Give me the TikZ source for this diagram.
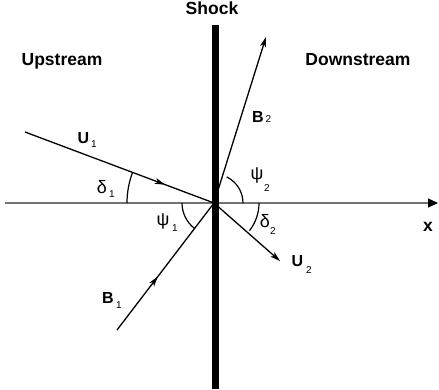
\documentclass[tikz,border=0pt]{standalone}
\usepackage{fontspec}
\setmainfont{Liberation Sans}
\usetikzlibrary{arrows.meta,decorations.markings}
\begin{document}
\begin{tikzpicture}[x=1pt,y=1pt,
  vec/.style={line width=1.3pt},
  endtip/.style={-{Stealth[length=10pt,width=6pt,inset=2.5pt]}},
  midtip/.style={decoration={markings, mark=at position #1 with {\arrow{Stealth[length=10pt,width=6pt,inset=2.5pt]}}}, postaction=decorate},
  ang/.style={line width=1.2pt},
  axisline/.style={line width=1.1pt, draw=black!55, -{Triangle[length=10pt,width=9pt,color=black]}},
  title/.style={font=\fontsize{17.5}{18}\selectfont\bfseries, inner sep=0pt, anchor=base},
  mainlab/.style={font=\fontsize{16}{16}\selectfont\bfseries, inner sep=0pt},
  sublab/.style={font=\fontsize{10}{10}\selectfont, inner sep=0pt},
  greek/.style={font=\fontsize{18}{18}\selectfont, inner sep=0pt},
]
\useasboundingbox (0,0) rectangle (439,389);
% coordinates
\coordinate (O) at (214,186);
\coordinate (xs) at (5,186);
\coordinate (xe) at (438,186);
\coordinate (u1) at (25,257);
\coordinate (u2) at (280,128);
\coordinate (b1) at (117,59);
\coordinate (b2) at (266,352);
% x axis
\draw[axisline] (xs) -- (xe);
% vectors
\draw[vec, midtip=0.74] (u1) -- (O);
\draw[vec, endtip] (O) -- (u2);
\draw[vec, midtip=0.42] (b1) -- (O);
\draw[vec, endtip] (O) -- (b2);
% angle arcs
\draw[ang] ([shift={(180:87)}]O) arc[start angle=180, end angle=159.4, radius=87];
\draw[ang] ([shift={(180:32)}]O) arc[start angle=180, end angle=232.6, radius=32];
\draw[ang] ([shift={(0:29)}]O) arc[start angle=0, end angle=64, radius=29];
\draw[ang] ([shift={(0:45)}]O) arc[start angle=0, end angle=-38, radius=45];
% shock
\node[fill=black, minimum width=7pt, minimum height=364pt, inner sep=0pt, anchor=south] (shock) at (215.5,0) {};
% titles
\node[title] (tshock) at (212,374) {Shock};
\node[title] (tup) at (62,323) {Upstream};
\node[title] (tdown) at (358,323) {Downstream};
\node[title, anchor=center] (tx) at (428,162) {x};
% vector labels
\node[mainlab] (lu1) at (83.5,251) {U};
\node[sublab] (lu1s) at (94,245) {1};
\node[mainlab] (lu2) at (297.5,127.5) {U};
\node[sublab] (lu2s) at (309,119) {2};
\node[mainlab] (lb1) at (108,91.5) {B};
\node[sublab] (lb1s) at (119,84) {1};
\node[mainlab] (lb2) at (258,272.5) {B};
\node[sublab] (lb2s) at (268.5,270) {2};
% angle labels
\node[greek] (d1) at (102,202) {δ};
\node[sublab] (d1s) at (112,194.5) {1};
\node[greek] (p1) at (163,168) {ψ};
\node[sublab] (p1s) at (175,161) {1};
\node[greek] (p2) at (257,214) {ψ};
\node[sublab] (p2s) at (267,201) {2};
\node[greek] (d2) at (265,168) {δ};
\node[sublab] (d2s) at (273,158) {2};
\end{tikzpicture}
\end{document}
